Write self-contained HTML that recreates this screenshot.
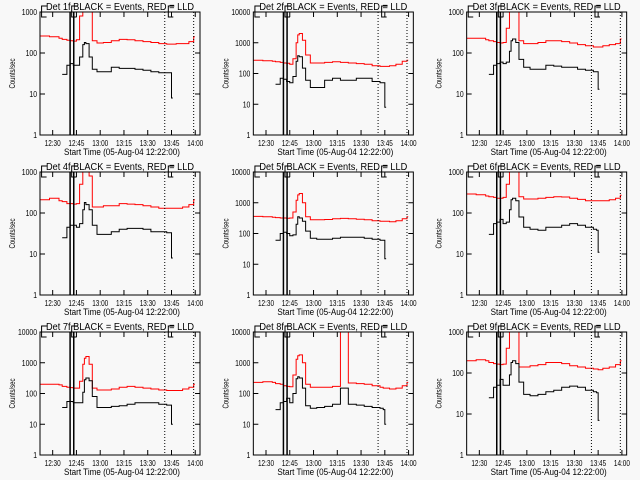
<!DOCTYPE html>
<html><head><meta charset="utf-8"><style>
html,body{margin:0;padding:0;background:#f8f8f8;}
svg{display:block;font-family:"Liberation Sans",sans-serif;}
</style></head><body>
<svg id="chart" width="640" height="480" viewBox="0 0 640 480"></svg>
<script>
const times=[0,6,12,14,17,19,21,23,25,27,28,29,31,33,36,40,45,50,55,60,65,70,75,80,82,83,86,90,94,97];
const xTickLabels=["12:30","12:45","13:00","13:15","13:30","13:45","14:00"];
const xTickMinutes=[8,23,38,53,68,83,98];
const panelTitles=["Det 1f BLACK = Events, RED = LLD","Det 2f BLACK = Events, RED = LLD","Det 3f BLACK = Events, RED = LLD","Det 4f BLACK = Events, RED = LLD","Det 5f BLACK = Events, RED = LLD","Det 6f BLACK = Events, RED = LLD","Det 7f BLACK = Events, RED = LLD","Det 8f BLACK = Events, RED = LLD","Det 9f BLACK = Events, RED = LLD"];
const yDecades=[3,4,3,3,4,3,4,4,3];
const solidMarkers=[19,21.3];
const dottedMarkers=[78.75,97];
const bracketMarkers=[1,20,81];
const N=null;
const red1=[260,250,230,215,205,200,195,210,800,3000,3000,3000,1500,200,175,180,200,215,210,200,190,180,170,165,165,165,170,170,190,250];
const red2=[270,260,250,240,230,220,215,200,300,1000,1800,2000,1200,400,220,220,230,240,230,220,210,200,180,170,170,170,180,200,250,270];
const red3=[230,230,210,200,190,180,175,180,400,2000,3000,3000,1500,200,170,170,180,200,200,190,175,160,150,140,140,140,150,160,170,220];
const red4=[210,230,200,190,170,170,165,170,500,2000,3000,3000,800,140,140,150,150,170,165,160,150,140,130,130,130,130,130,140,160,210];
const red5=[360,350,340,330,320,320,315,320,500,1200,1800,2000,1000,350,280,280,285,300,310,300,290,280,260,250,250,250,240,260,300,350];
const red6=[290,280,260,250,240,230,230,240,500,3000,3000,3000,1500,250,220,220,230,240,250,245,230,215,200,200,200,200,200,210,230,270];
const red7=[200,200,190,170,160,155,150,150,250,900,1400,1600,900,150,130,130,140,160,170,160,150,140,130,125,125,125,125,140,160,200];
const red8=[230,240,230,210,200,180,170,165,400,1300,1700,1800,1000,200,160,160,160,170,20000,220,210,200,180,160,150,150,140,150,180,230];
const red9=[200,210,200,180,170,165,160,165,400,2000,3000,3000,1000,140,140,150,160,180,180,170,150,140,130,125,125,120,130,140,160,200];
const black1=[N,N,N,30,50,55,50,50,80,160,180,170,80,40,35,35,45,42,42,40,38,35,33,33,33,8,N,N,N,N];
const black2=[N,N,N,45,70,65,55,50,80,250,380,350,150,60,35,35,60,70,60,60,70,70,55,50,50,8,N,N,N,N];
const black3=[N,N,N,30,50,55,60,55,60,110,200,220,180,70,45,40,40,50,48,45,45,40,38,35,35,13,N,N,N,N];
const black4=[N,N,N,25,45,50,50,45,55,120,180,160,120,50,30,30,35,40,42,42,40,35,35,33,33,8,N,N,N,N];
const black5=[N,N,N,60,100,110,100,85,90,200,350,320,250,120,70,65,65,70,75,75,75,70,65,60,60,15,N,N,N,N];
const black6=[N,N,N,30,55,60,70,55,60,120,210,230,200,80,45,40,38,45,45,50,55,50,45,40,38,11,N,N,N,N];
const black7=[N,N,N,35,55,55,50,50,50,110,280,320,260,80,35,35,38,40,45,50,50,50,45,42,42,10,N,N,N,N];
const black8=[N,N,N,30,50,55,70,50,100,300,350,320,150,40,33,35,38,45,150,45,42,38,35,33,30,10,N,N,N,N];
const black9=[N,N,N,25,45,50,70,50,50,90,180,200,170,60,30,28,30,35,38,45,48,45,38,35,33,7,N,N,N,N];
const redSeries=[red1,red2,red3,red4,red5,red6,red7,red8,red9];
const blackSeries=[black1,black2,black3,black4,black5,black6,black7,black8,black9];

const svg=document.getElementById('chart');
const NS='http://www.w3.org/2000/svg';
function mk(tag,attrs,parent){const e=document.createElementNS(NS,tag);for(const k in attrs)e.setAttribute(k,attrs[k]);parent.appendChild(e);return e;}
const bg=mk('rect',{x:0,y:0,width:640,height:480,fill:'#f8f8f8'},svg);


const L=40,R=200,T=12,B=135,TMAX=101;
for(let p=0;p<9;p++){
  const ox=(p%3)*213.33, oy=Math.floor(p/3)*160;
  const g=mk('g',{transform:`translate(${ox},${oy})`},svg);
  
  
  const dec=yDecades[p];
  const xs=m=>L+(R-L)*m/TMAX;
  const ys=v=>B-(B-T)*Math.log10(v)/dec;
  const cp=mk('clipPath',{id:'cp'+p},g);
  mk('rect',{x:L,y:T,width:R-L,height:B-T},cp);
  const tt=mk('text',{x:(L+R)/2,y:10,'text-anchor':'middle','font-size':10,fill:'#000',textLength:148,lengthAdjust:'spacingAndGlyphs'},g);
  tt.textContent=panelTitles[p];
  
  
  for(let d=0;d<=dec;d++){
    const y=ys(Math.pow(10,d));
    mk('line',{x1:L,x2:L+5,y1:y,y2:y,stroke:'#000','stroke-width':1},g);
    mk('line',{x1:R,x2:R-5,y1:y,y2:y,stroke:'#000','stroke-width':1},g);
    const s=String(Math.pow(10,d));
    const lt=mk('text',{x:L-3,y:y+3,'text-anchor':'end','font-size':8,fill:'#000',textLength:s.length*3.8,lengthAdjust:'spacingAndGlyphs'},g);
    lt.textContent=s;
    
    
  }
  for(let i=0;i<xTickMinutes.length;i++){
    const x=xs(xTickMinutes[i]);
    mk('line',{x1:x,x2:x,y1:B,y2:B-5,stroke:'#000','stroke-width':1},g);
    mk('line',{x1:x,x2:x,y1:T,y2:T+5,stroke:'#000','stroke-width':1},g);
    const xt=mk('text',{x:x,y:B+11,'text-anchor':'middle','font-size':8,fill:'#000',textLength:16,lengthAdjust:'spacingAndGlyphs'},g);
    xt.textContent=xTickLabels[i];
    
    
  }
  const xa=mk('text',{x:(L+R)/2+2,y:B+20,'text-anchor':'middle','font-size':9,fill:'#000',textLength:116,lengthAdjust:'spacingAndGlyphs'},g);
  xa.textContent='Start Time (05-Aug-04 12:22:00)';
  
  
  const ya=mk('text',{x:0,y:0,'text-anchor':'middle','font-size':8,fill:'#000',textLength:30,lengthAdjust:'spacingAndGlyphs',transform:`translate(15,${(T+B)/2}) rotate(-90)`},g);
  ya.textContent='Counts/sec';
  
  
  function stepPath(vals){
    let d='',pen=false;
    for(let i=0;i<vals.length;i++){
      const v=vals[i];
      if(v===null){pen=false;continue;}
      const x=xs(times[i]), y=ys(v);
      if(!pen){d+=`M${x.toFixed(1)},${y.toFixed(1)}`;pen=true;}
      else d+=`H${x.toFixed(1)}V${y.toFixed(1)}`;
      if(!(i+1<vals.length&&vals[i+1]!==null))d+=`H${xs(times[i]+0.8).toFixed(1)}`;
    }
    return d;
  }
  const rp=mk('path',{d:stepPath(redSeries[p]),fill:'none',stroke:'#ff0000','stroke-width':1,'clip-path':`url(#cp${p})`},g);
  
  
  const bp=mk('path',{d:stepPath(blackSeries[p]),fill:'none',stroke:'#000','stroke-width':1,'clip-path':`url(#cp${p})`},g);
  
  
  solidMarkers.forEach(m=>{const l=mk('line',{x1:xs(m),x2:xs(m),y1:T,y2:B,stroke:'#000','stroke-width':1.5},g);
    
    });
  dottedMarkers.forEach(m=>{const l=mk('line',{x1:xs(m),x2:xs(m),y1:T,y2:B,stroke:'#000','stroke-width':1,'stroke-dasharray':'1,2'},g);
    
    });
  bracketMarkers.forEach(m=>{const x=xs(m);const b=mk('path',{d:`M${x+6},${T-6}H${x}V${T+5}H${x+5}`,fill:'none',stroke:'#000','stroke-width':1},g);
    
    });
  const fr=mk('rect',{x:L,y:T,width:R-L,height:B-T,fill:'none',stroke:'#000','stroke-width':1},g);
  
  
}
</script>
</body></html>
